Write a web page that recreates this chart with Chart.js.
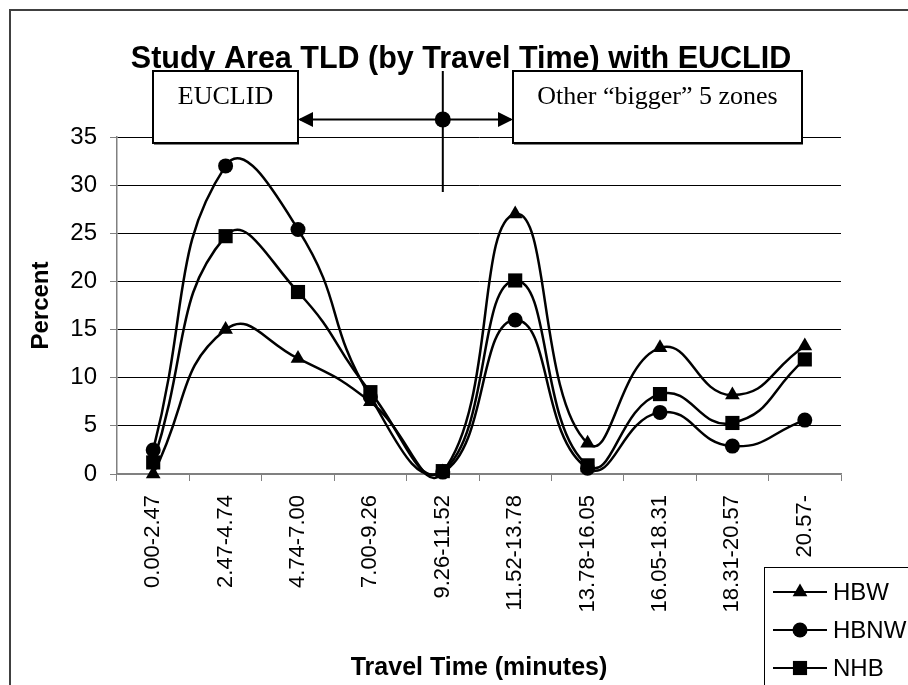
<!DOCTYPE html>
<html>
<head>
<meta charset="utf-8">
<script src="https://cdn.jsdelivr.net/npm/chart.js@4/dist/chart.umd.min.js"></script>
<style>
  html, body { margin: 0; padding: 0; background: #fff; }
  #wrap { width: 908px; height: 685px; }
</style>
</head>
<body>
<div id="wrap"><canvas id="tld" width="908" height="685"></canvas></div>
<script>
const categories = ["0.00-2.47", "2.47-4.74", "4.74-7.00", "7.00-9.26", "9.26-11.52",
  "11.52-13.78", "13.78-16.05", "16.05-18.31", "18.31-20.57", "20.57-"]
const hbw = [0, 15, 12, 7.5, 0.2, 27, 3.2, 13.1, 8.2, 13.3]
const hbnw = [2.5, 32, 25.4, 8.0, 0.2, 16, 0.6, 6.4, 2.9, 5.6]
const nhb = [1.2, 24.7, 18.9, 8.5, 0.3, 20.1, 0.9, 8.3, 5.3, 11.9]
const seriesNames = ["HBW", "HBNW", "NHB"]
const yTicks = [0, 5, 10, 15, 20, 25, 30, 35]

const sans = "Arial, 'Liberation Sans', sans-serif"
const serif = "'Times New Roman', 'Liberation Serif', serif"
const axisGray = "#808080"

const makeSet = (label, data, style, radius) => ({
  label: label,
  data: data,
  borderColor: "#000",
  backgroundColor: "#000",
  borderWidth: 2.5,
  tension: 0.5,
  pointStyle: style,
  pointRadius: radius,
  pointHoverRadius: radius,
  pointBorderWidth: 0,
  clip: false
})

// frame, the EUCLID annotation and the legend
const extras = {
  id: "extras",
  afterDraw(chart) {
    const ctx = chart.ctx
    const x = chart.scales.x
    ctx.save()

    // outer frame
    ctx.strokeStyle = "#404040"
    ctx.lineWidth = 2
    ctx.beginPath()
    ctx.moveTo(10, 685)
    ctx.lineTo(10, 10)
    ctx.lineTo(908, 10)
    ctx.stroke()

    // vertical divider and arrow
    const mid = x.getPixelForValue(4)
    ctx.strokeStyle = "#000"
    ctx.lineWidth = 2
    ctx.beginPath()
    ctx.moveTo(mid, 71)
    ctx.lineTo(mid, 192)
    ctx.moveTo(300, 119.5)
    ctx.lineTo(511, 119.5)
    ctx.stroke()
    ctx.fillStyle = "#000"
    ctx.beginPath()
    ctx.moveTo(298, 119.5)
    ctx.lineTo(313, 112)
    ctx.lineTo(313, 127)
    ctx.closePath()
    ctx.fill()
    ctx.beginPath()
    ctx.moveTo(513, 119.5)
    ctx.lineTo(498, 112)
    ctx.lineTo(498, 127)
    ctx.closePath()
    ctx.fill()
    ctx.beginPath()
    ctx.arc(mid, 119.5, 8, 0, Math.PI * 2)
    ctx.fill()

    // boxes
    const boxes = [
      { l: 153, r: 298, text: "EUCLID" },
      { l: 513, r: 802, text: "Other \u201cbigger\u201d 5 zones" }
    ]
    boxes.forEach(b => {
      ctx.fillStyle = "#fff"
      ctx.fillRect(b.l, 71, b.r - b.l, 72)
      ctx.strokeStyle = "#000"
      ctx.lineWidth = 2
      ctx.strokeRect(b.l, 71, b.r - b.l, 72)
      ctx.beginPath()
      ctx.moveTo(b.l + 1, 143.5)
      ctx.lineTo(b.r + 1, 143.5)
      ctx.stroke()
      ctx.fillStyle = "#000"
      ctx.font = "26px " + serif
      ctx.textAlign = "center"
      ctx.textBaseline = "middle"
      ctx.fillText(b.text, (b.l + b.r) / 2, 97.5)
    })

    // legend
    ctx.fillStyle = "#fff"
    ctx.fillRect(764.5, 567.5, 150, 130)
    ctx.strokeStyle = "#000"
    ctx.lineWidth = 1
    ctx.strokeRect(764.5, 567.5, 150, 130)
    chart.data.datasets.forEach((ds, i) => {
      const y = 592 + i * 38
      ctx.strokeStyle = "#000"
      ctx.lineWidth = 2
      ctx.beginPath()
      ctx.moveTo(773, y)
      ctx.lineTo(827, y)
      ctx.stroke()
      ctx.fillStyle = "#000"
      Chart.helpers.drawPoint(ctx, { pointStyle: ds.pointStyle, radius: ds.pointRadius, rotation: 0, borderWidth: 0 }, 800, y)
      ctx.font = "24px " + sans
      ctx.textAlign = "left"
      ctx.textBaseline = "middle"
      ctx.fillText(ds.label, 833, y + 1)
    })
    ctx.restore()
  }
}

new Chart(document.getElementById("tld"), {
  type: "line",
  data: {
    labels: categories,
    datasets: [
      makeSet(seriesNames[0], hbw, "triangle", 8.5),
      makeSet(seriesNames[1], hbnw, "circle", 7.5),
      makeSet(seriesNames[2], nhb, "rect", 10)
    ]
  },
  options: {
    responsive: false,
    animation: false,
    events: [],
    layout: { padding: { left: 14, top: 0, right: 0, bottom: 0 } },
    elements: { line: { capBezierPoints: false } },
    plugins: {
      legend: { display: false },
      tooltip: { enabled: false },
      title: {
        display: true,
        text: "Study Area TLD (by Travel Time) with EUCLID",
        color: "#000",
        font: { family: sans, size: 30.5, weight: "bold" },
        padding: { top: 41, bottom: 59.4 }
      }
    },
    scales: {
      x: {
        offset: true,
        grid: { display: true, drawOnChartArea: false, offset: true, tickLength: 7, tickColor: axisGray, tickWidth: 1 },
        border: { display: true, color: axisGray, width: 1.5 },
        ticks: {
          color: "#000",
          font: { family: sans, size: 22 },
          maxRotation: 90,
          minRotation: 90,
          autoSkip: false,
          padding: 14
        },
        title: {
          display: true,
          text: "Travel Time (minutes)",
          color: "#000",
          font: { family: sans, size: 25, weight: "bold" },
          padding: { top: 0, bottom: 2 }
        },
        afterFit: s => { s.height = 211 }
      },
      y: {
        min: 0,
        max: 35,
        grid: {
          color: c => c.tick && c.tick.value === 0 ? axisGray : "#000",
          lineWidth: 1,
          tickLength: 7,
          tickColor: axisGray
        },
        border: { display: true, color: axisGray, width: 1.5 },
        afterBuildTicks: s => { s.ticks = yTicks.map(v => ({ value: v })) },
        ticks: {
          color: "#000",
          font: { family: sans, size: 24 },
          padding: 13
        },
        title: {
          display: true,
          text: "Percent",
          color: "#000",
          font: { family: sans, size: 24, weight: "bold" },
          padding: { top: 13, bottom: 0 }
        },
        afterFit: s => { s.width = 103 }
      },
      spare: {
        position: "right",
        display: true,
        grid: { display: false, drawTicks: false },
        border: { display: false },
        ticks: { display: false },
        afterFit: s => { s.width = 67 }
      }
    }
  },
  plugins: [extras]
})
</script>
</body>
</html>
